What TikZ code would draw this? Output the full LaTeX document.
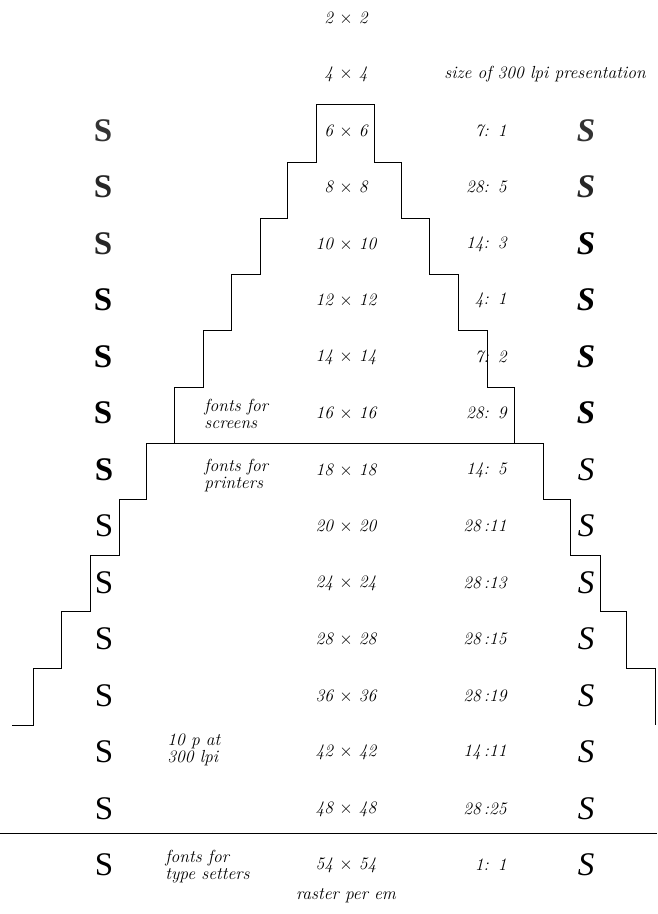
\documentclass[tikz,border=0pt]{standalone}
\usepackage{fontspec}
\usepackage{tikz}
\usetikzlibrary{positioning}
\newfontfamily\glyphfont{Liberation Serif}

\begin{document}
\begin{tikzpicture}[x=1pt, y=-1pt, line width=0.9pt,
  every node/.style={font=\fontsize{17.5}{17}\selectfont\itshape, inner sep=0pt},
  rasterlbl/.style={anchor=center},
  ratiolbl/.style={anchor=east},
  notelbl/.style={anchor=west, align=left},
  glyphup/.style={font=\fontsize{33}{33}\selectfont\glyphfont\upshape},
  glyphbf/.style={font=\fontsize{33}{33}\selectfont\glyphfont\bfseries},
  glyphit/.style={font=\fontsize{33}{33}\selectfont\glyphfont\itshape},
  glyphbi/.style={font=\fontsize{33}{33}\selectfont\glyphfont\bfseries\itshape}]
\useasboundingbox (0,0) rectangle (657,914);

% Raster sizes (middle column)
\node[rasterlbl] (r2) at (346, 18) {2 $\times$ 2};
\node[rasterlbl] (r4) at (346, 74) {4 $\times$ 4};
\node[anchor=center] (pres) at (545, 74) {size of 300 lpi presentation};
\node[rasterlbl] (r6) at (346, 131) {6 $\times$ 6};
\node[rasterlbl] (r8) at (346, 187) {8 $\times$ 8};
\node[rasterlbl] (r10) at (346, 244) {10 $\times$ 10};
\node[rasterlbl] (r12) at (346, 300) {12 $\times$ 12};
\node[rasterlbl] (r14) at (346, 357) {14 $\times$ 14};
\node[rasterlbl] (r16) at (346, 413) {16 $\times$ 16};
\node[rasterlbl] (r18) at (346, 470) {18 $\times$ 18};
\node[rasterlbl] (r20) at (346, 526) {20 $\times$ 20};
\node[rasterlbl] (r24) at (346, 583) {24 $\times$ 24};
\node[rasterlbl] (r28) at (346, 639) {28 $\times$ 28};
\node[rasterlbl] (r36) at (346, 696) {36 $\times$ 36};
\node[rasterlbl] (r42) at (346, 752) {42 $\times$ 42};
\node[rasterlbl] (r48) at (346, 809) {48 $\times$ 48};
\node[rasterlbl] (r54) at (346, 865) {54 $\times$ 54};
\node[anchor=center] (rpe) at (346, 896) {raster per em};

% Ratios to the 300 lpi presentation
\node[ratiolbl] (q6) at (507, 131) {7:\,\ 1};
\node[ratiolbl] (q8) at (507, 187) {28:\,\ 5};
\node[ratiolbl] (q10) at (507, 244) {14:\,\ 3};
\node[ratiolbl] (q12) at (507, 300) {4:\,\ 1};
\node[ratiolbl] (q14) at (507, 357) {7:\,\ 2};
\node[ratiolbl] (q16) at (507, 413) {28:\,\ 9};
\node[ratiolbl] (q18) at (507, 470) {14:\,\ 5};
\node[ratiolbl] (q20) at (507, 526) {28\,:11};
\node[ratiolbl] (q24) at (507, 583) {28\,:13};
\node[ratiolbl] (q28) at (507, 639) {28\,:15};
\node[ratiolbl] (q36) at (507, 696) {28\,:19};
\node[ratiolbl] (q42) at (507, 752) {14\,:11};
\node[ratiolbl] (q48) at (507, 809) {28\,:25};
\node[ratiolbl] (q54) at (507, 865) {1:\,\ 1};

% Upright S at each raster (left column)
\node[glyphbf, black!80] (gl6) at (103, 131) {S};
\node[glyphbf, black!85] (gl8) at (103, 187) {S};
\node[glyphbf, black!85] (gl10) at (103, 244) {S};
\node[glyphbf] (gl12) at (103, 300) {S};
\node[glyphbf] (gl14) at (103, 357) {S};
\node[glyphbf] (gl16) at (103, 413) {S};
\node[glyphbf] (gl18) at (104, 470) {S};
\node[glyphup] (gl20) at (104, 526) {S};
\node[glyphup] (gl24) at (104, 583) {S};
\node[glyphup] (gl28) at (104, 639) {S};
\node[glyphup] (gl36) at (104, 696) {S};
\node[glyphup] (gl42) at (104, 752) {S};
\node[glyphup] (gl48) at (104, 809) {S};
\node[glyphup] (gl54) at (104, 865) {S};

% Italic S at each raster (right column)
\node[glyphbi, black!80] (gr6) at (586, 131) {S};
\node[glyphbi, black!85] (gr8) at (586, 187) {S};
\node[glyphbi] (gr10) at (586, 244) {S};
\node[glyphbi] (gr12) at (586, 300) {S};
\node[glyphbi] (gr14) at (586, 357) {S};
\node[glyphbi] (gr16) at (586, 413) {S};
\node[glyphit] (gr18) at (586, 470) {S};
\node[glyphit] (gr20) at (586, 526) {S};
\node[glyphit] (gr24) at (586, 583) {S};
\node[glyphit] (gr28) at (586, 639) {S};
\node[glyphit] (gr36) at (586, 696) {S};
\node[glyphit] (gr42) at (586, 752) {S};
\node[glyphit] (gr48) at (586, 809) {S};
\node[glyphit] (gr54) at (586, 865) {S};

% Notes on the device classes
\node[notelbl] (nscr) at (204, 414) {fonts for\\screens};
\node[notelbl] (nprn) at (204, 476) {fonts for\\printers};
\node[notelbl] (nlpi) at (167, 750) {10 p at\\300 lpi};
\node[notelbl] (ntyp) at (165, 867) {fonts for\\type setters};

% Staircase for screens
\draw (146,443) -- (543,443);
\draw (174,443) -- (174,387) -- (203,387) -- (203,330) -- (231,330) -- (231,274)
  -- (260,274) -- (260,218) -- (287,218) -- (287,162) -- (316,162) -- (316,104)
  -- (374,104) -- (374,162) -- (401,162) -- (401,218) -- (429,218) -- (429,274)
  -- (458,274) -- (458,330) -- (487,330) -- (487,387) -- (514,387) -- (514,443);

% Staircase for printers
\draw (12,725) -- (33,725) -- (33,668) -- (61,668) -- (61,611) -- (90,611)
  -- (90,555) -- (119,555) -- (119,499) -- (146,499) -- (146,443);
\draw (543,443) -- (543,499) -- (570,499) -- (570,555) -- (600,555) -- (600,611)
  -- (626,611) -- (626,668) -- (655,668) -- (655,725);

% Type setters below
\draw (0,833) -- (657,833);
\end{tikzpicture}
\end{document}
